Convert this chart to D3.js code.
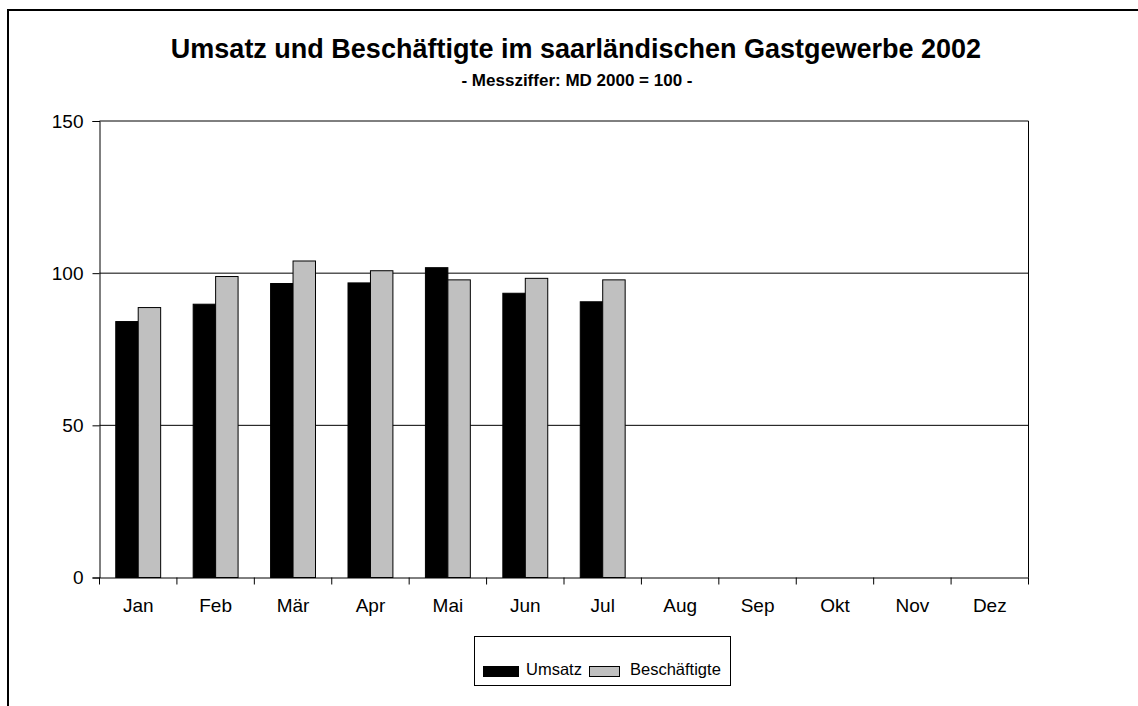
<!DOCTYPE html>
<meta charset="utf-8">
<body style="margin:0;background:#fff">
<script src="https://d3js.org/d3.v7.min.js"></script>
<script>

// Data (index, MD 2000 = 100)
const months = ["Jan", "Feb", "Mär", "Apr", "Mai", "Jun", "Jul", "Aug", "Sep", "Okt", "Nov", "Dez"];
const umsatz = [84.1, 89.8, 96.6, 96.8, 101.8, 93.4, 90.6, null, null, null, null, null];
const beschaeftigte = [88.7, 98.9, 104.0, 100.8, 97.8, 98.3, 97.8, null, null, null, null, null];
const seriesNames = ["Umsatz", "Beschäftigte"];
const seriesColors = ["#000000", "#c0c0c0"];
const yTicks = [0, 50, 100, 150];

const W = 1138, H = 706;
const plot = {left: 99.5, right: 1028.5, top: 121, bottom: 577.5};
const font = "'Liberation Sans', Arial, sans-serif";

const svg = d3.select("body").append("svg")
    .attr("width", W)
    .attr("height", H)
    .style("font-family", font);

// outer frame (runs off the right and bottom edges)
svg.append("rect")
    .attr("x", 8).attr("y", 10)
    .attr("width", 1300).attr("height", 900)
    .attr("fill", "none")
    .attr("stroke", "#000")
    .attr("stroke-width", 2);

// scales
const x = d3.scaleBand()
    .domain(months)
    .range([plot.left, plot.right])
    .paddingInner(0.42)
    .paddingOuter(0.21);

const x1 = d3.scaleBand()
    .domain(seriesNames)
    .range([0, x.bandwidth()]);

const y = d3.scaleLinear()
    .domain([0, 150])
    .range([plot.bottom, plot.top]);

// gridlines
svg.append("g")
    .selectAll("line")
    .data(yTicks.filter(d => d > 0))
    .join("line")
    .attr("x1", plot.left).attr("x2", plot.right)
    .attr("y1", d => y(d)).attr("y2", d => y(d))
    .attr("stroke", "#000")
    .attr("stroke-width", 1);

// right edge of plot area
svg.append("line")
    .attr("x1", plot.right).attr("x2", plot.right)
    .attr("y1", plot.top).attr("y2", plot.bottom)
    .attr("stroke", "#000");

// bars
const data = months.map((m, i) => ({month: m, values: [umsatz[i], beschaeftigte[i]]}));

const groups = svg.append("g")
    .selectAll("g")
    .data(data)
    .join("g")
    .attr("transform", d => "translate(" + x(d.month) + ",0)");

groups.selectAll("rect")
    .data(d => d.values.map((v, j) => ({name: seriesNames[j], value: v, color: seriesColors[j]})).filter(e => e.value != null))
    .join("rect")
    .attr("x", d => x1(d.name))
    .attr("width", x1.bandwidth())
    .attr("y", d => y(d.value))
    .attr("height", d => y(0) - y(d.value))
    .attr("fill", d => d.color)
    .attr("stroke", "#000")
    .attr("stroke-width", 1);

// y axis
const yAxis = svg.append("g")
    .attr("transform", "translate(" + plot.left + ",0)")
    .call(d3.axisLeft(y).tickValues(yTicks).tickSize(7).tickPadding(9));
yAxis.select(".domain").attr("stroke", "#000");
yAxis.selectAll("text").style("font-size", "19px").style("font-family", font).attr("fill", "#000");

// x axis: labels at band centres, ticks at band boundaries
const xAxis = svg.append("g")
    .attr("transform", "translate(0," + plot.bottom + ")")
    .call(d3.axisBottom(x).tickSize(0).tickPadding(21.5).tickSizeOuter(0));
xAxis.select(".domain").attr("stroke", "#000");
xAxis.selectAll("text").style("font-size", "19px").style("font-family", font).attr("fill", "#000");

const bounds = months.map(m => x(m) - x.step() * x.paddingInner() / 2).concat([plot.right]);
xAxis.selectAll(".bound")
    .data(bounds)
    .join("line")
    .attr("class", "bound")
    .attr("x1", d => d).attr("x2", d => d)
    .attr("y1", 0).attr("y2", 7)
    .attr("stroke", "#000");

// titles
svg.append("text")
    .attr("x", 576).attr("y", 58)
    .attr("text-anchor", "middle")
    .style("font-weight", "bold")
    .style("font-size", "27px")
    .text("Umsatz und Beschäftigte im saarländischen Gastgewerbe 2002");

svg.append("text")
    .attr("x", 577).attr("y", 86)
    .attr("text-anchor", "middle")
    .style("font-weight", "bold")
    .style("font-size", "17px")
    .text("- Messziffer: MD 2000 = 100 -");

// legend
const legend = svg.append("g").attr("class", "legend");
legend.append("rect")
    .attr("x", 474.5).attr("y", 636.5)
    .attr("width", 256).attr("height", 49)
    .attr("fill", "#fff")
    .attr("stroke", "#000");

const legendItems = [
    {name: seriesNames[0], color: seriesColors[0], sx: 483, sw: 35, tx: 526},
    {name: seriesNames[1], color: seriesColors[1], sx: 589, sw: 30, tx: 630}
];
legendItems.forEach(function(d) {
    legend.append("rect")
        .attr("x", d.sx + 0.5).attr("y", 666.5)
        .attr("width", d.sw).attr("height", 10)
        .attr("fill", d.color)
        .attr("stroke", "#000");
    legend.append("text")
        .attr("x", d.tx).attr("y", 675)
        .style("font-size", "16.5px")
        .text(d.name);
});

</script>
</body>
